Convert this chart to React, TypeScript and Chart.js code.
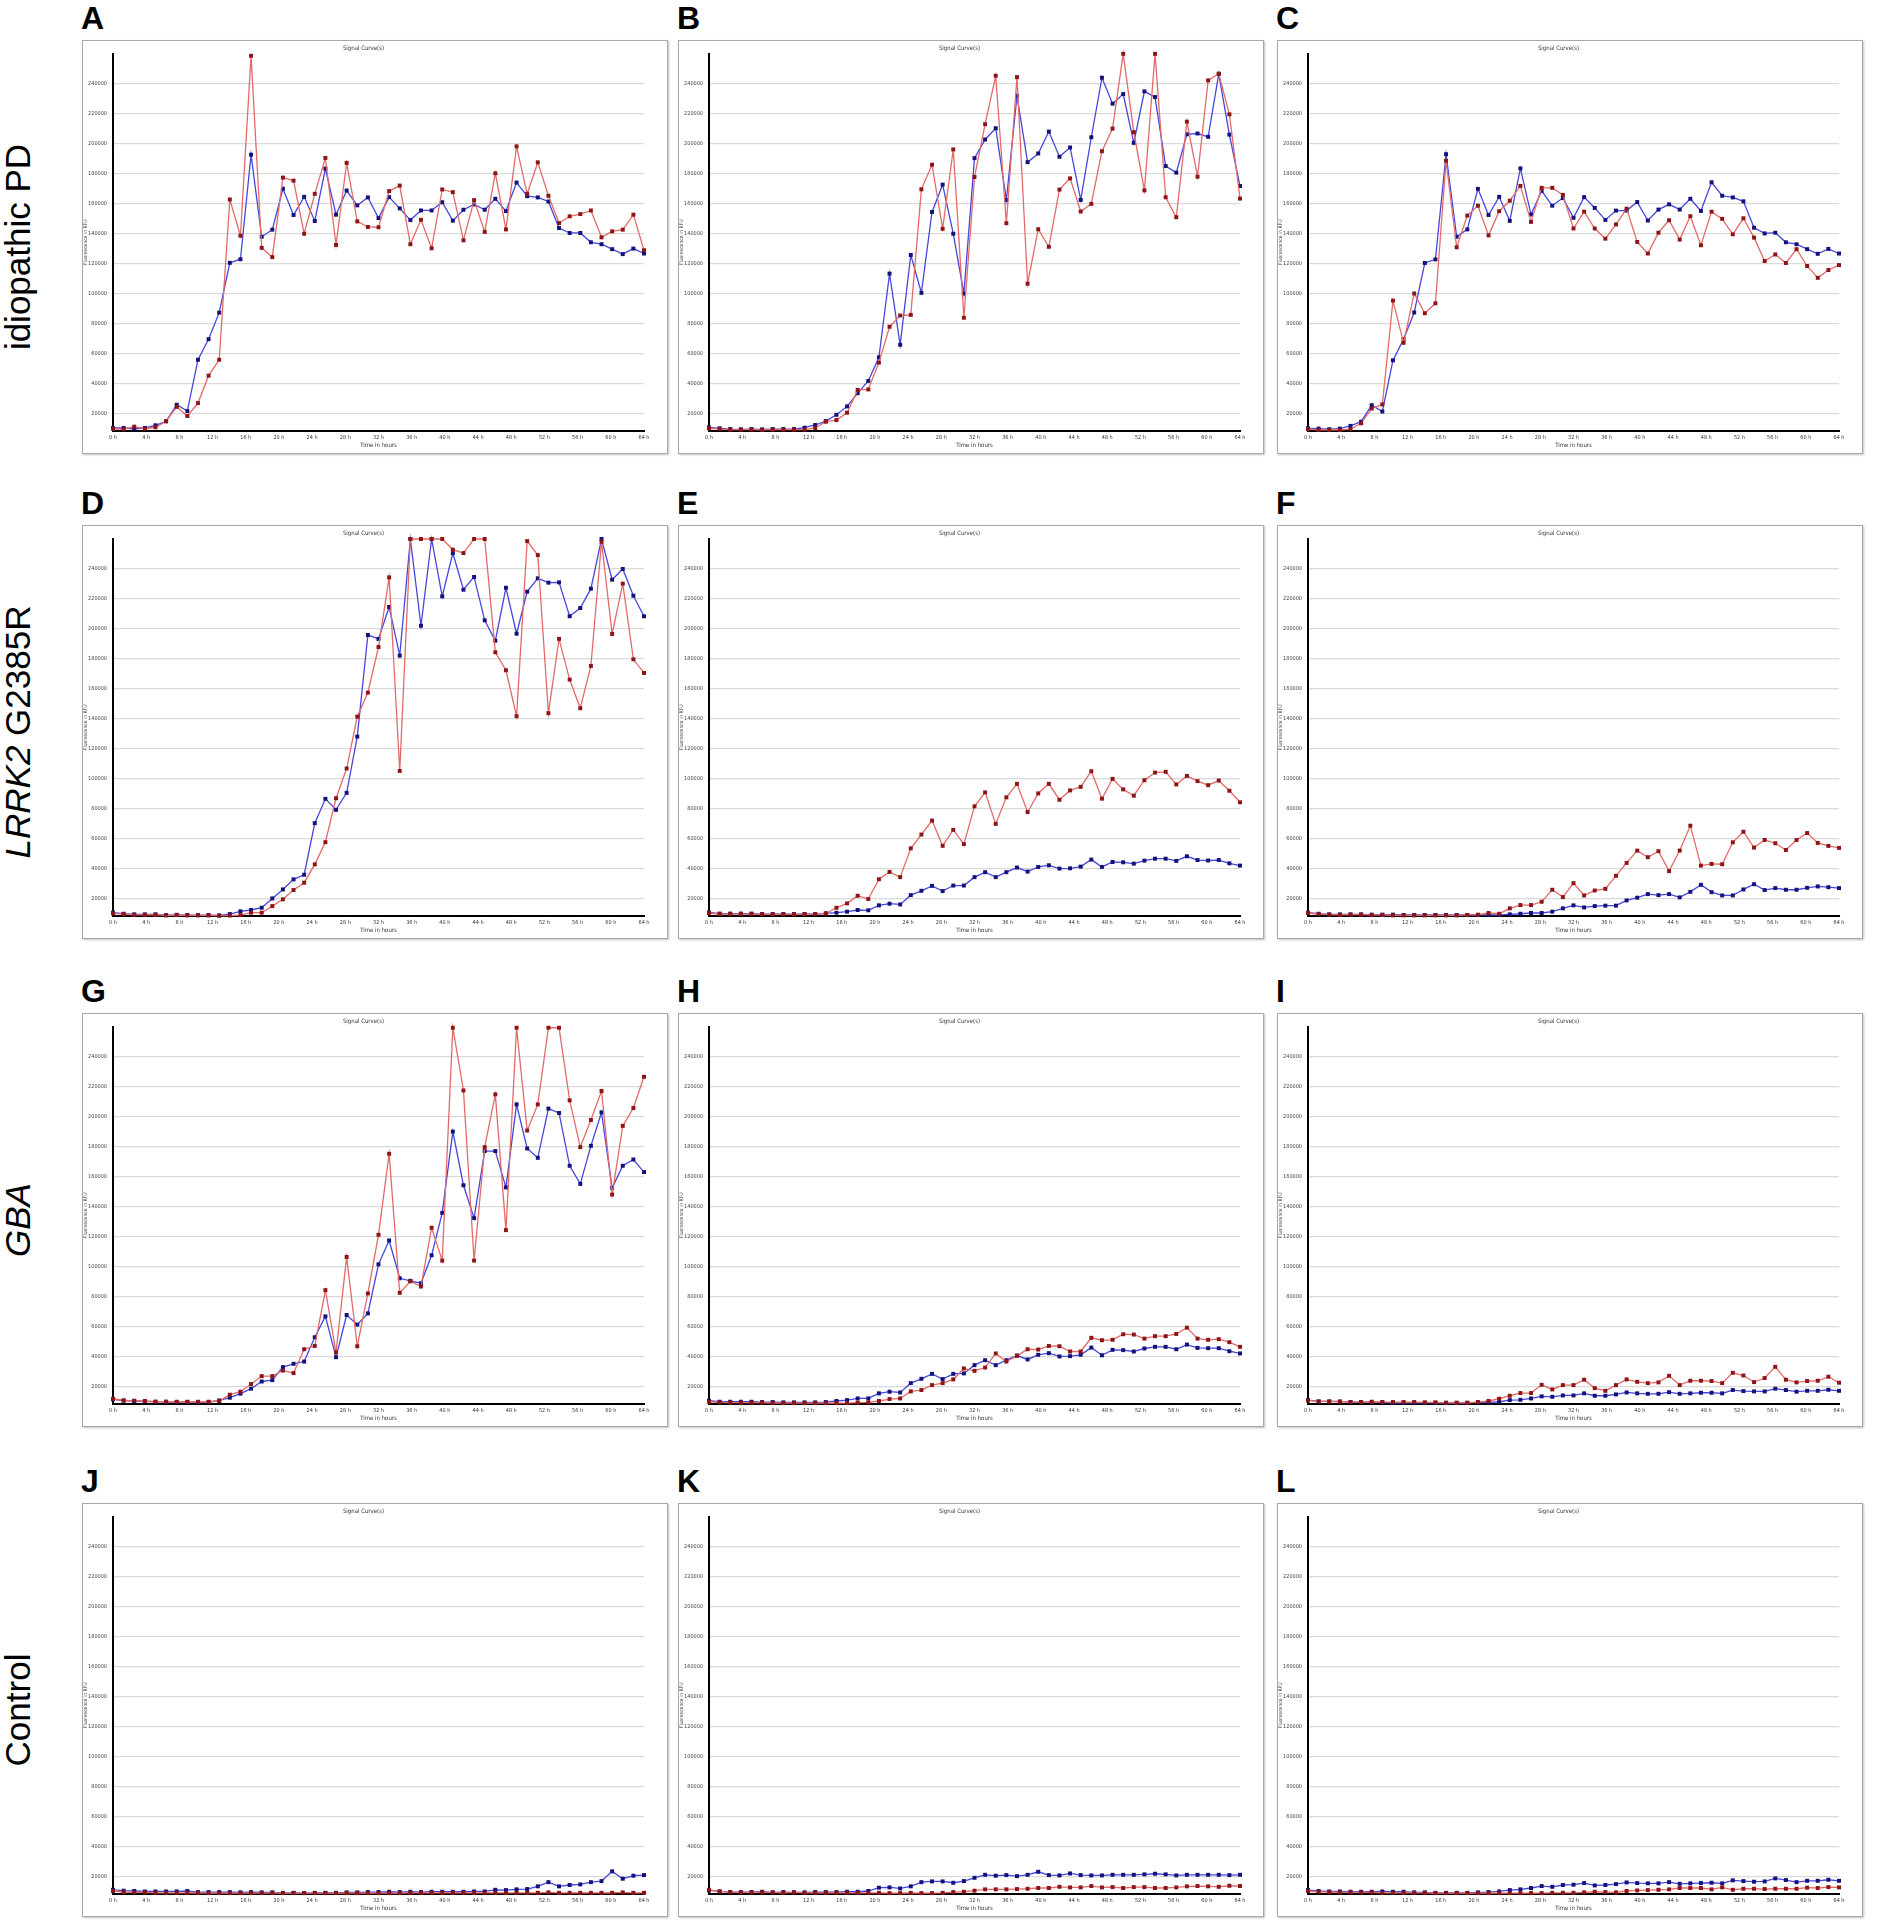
import React, { useEffect, useRef } from "react";
import Chart from "chart.js/auto";

// sampling times (one read every 1.28 h, 51 reads over 64 h)
const timeHours = [
  0, 1.28, 2.56, 3.84, 5.12, 6.4, 7.68, 8.96, 10.24, 11.52, 12.8, 14.08, 15.36,
  16.64, 17.92, 19.2, 20.48, 21.76, 23.04, 24.32, 25.6, 26.88, 28.16, 29.44,
  30.72, 32, 33.28, 34.56, 35.84, 37.12, 38.4, 39.68, 40.96, 42.24, 43.52, 44.8,
  46.08, 47.36, 48.64, 49.92, 51.2, 52.48, 53.76, 55.04, 56.32, 57.6, 58.88,
  60.16, 61.44, 62.72, 64,
];
const xTickHours = [0, 4, 8, 12, 16, 20, 24, 28, 32, 36, 40, 44, 48, 52, 56, 60, 64];
const yTickValues = [
  20000, 40000, 60000, 80000, 100000, 120000, 140000, 160000, 180000, 200000,
  220000, 240000,
];

const panelARed = [10000, 9600, 11400, 10000, 11000, 15000, 24600, 18500, 27100, 45400, 56000, 162800, 138700, 258600, 130600, 124400, 177400, 175400, 140000, 166600, 190500, 132500, 187200, 148200, 144500, 144300, 168400, 172100, 133000, 149300, 130300, 169500, 167700, 135600, 162400, 141200, 180300, 142900, 198200, 166600, 187600, 165300, 147100, 151600, 153100, 155500, 137600, 141600, 142700, 152700, 129000];
const panelABlue = [10500, 10500, 10000, 10500, 12300, 15000, 26000, 21800, 56000, 69700, 87400, 120600, 123000, 192700, 138000, 142700, 170000, 152500, 164600, 148500, 183400, 152700, 168800, 158900, 164200, 150400, 164400, 156900, 149100, 155500, 155500, 161000, 148700, 156000, 159500, 156000, 163300, 155100, 174100, 165000, 164200, 161500, 143800, 140500, 140500, 134300, 133000, 129700, 126400, 130100, 126800];

const panelBRed = [10300, 9800, 9400, 9400, 9400, 9200, 9400, 9400, 9400, 9400, 10500, 14700, 15800, 20700, 35900, 36200, 54100, 78000, 85500, 85900, 169600, 186000, 143300, 196200, 84000, 177800, 213000, 245300, 147000, 244400, 106700, 143000, 131300, 169400, 176900, 154800, 159900, 195000, 210100, 259900, 207700, 168900, 259900, 164300, 151000, 214700, 178000, 242200, 246600, 219600, 163400];
const panelBBlue = [10900, 10300, 9800, 9600, 9800, 9600, 9800, 9800, 9800, 10700, 12500, 15100, 19300, 24900, 33700, 41900, 57600, 113400, 66000, 125800, 100600, 154500, 172700, 140000, 100100, 190400, 202800, 210300, 162500, 231800, 187700, 193500, 208100, 191300, 197500, 162500, 204300, 244000, 226700, 233100, 200600, 234900, 231100, 185100, 180700, 206300, 206800, 204600, 246600, 206100, 171800];

const panelCRed = [9700, 9200, 9200, 9200, 9700, 13600, 23500, 26200, 95400, 67300, 100200, 87000, 93600, 188600, 131000, 152100, 158700, 138900, 155000, 162000, 171900, 147900, 170600, 170600, 165900, 143500, 154700, 143500, 136700, 146200, 156700, 134500, 126800, 140700, 149000, 136100, 151700, 132300, 154700, 149900, 139600, 150300, 137400, 121800, 126200, 120500, 129700, 118500, 110600, 115800, 119100];
const panelCBlue = [10300, 10100, 9700, 10100, 11900, 14700, 25700, 21500, 55600, 69700, 87500, 120500, 122900, 193000, 138000, 142900, 169900, 152500, 164600, 148600, 183500, 152800, 168600, 158700, 163800, 150600, 164400, 157200, 149200, 155400, 155400, 161100, 148800, 156100, 159600, 156100, 163300, 155200, 174300, 165300, 164200, 161600, 144000, 140200, 140700, 134300, 133000, 129700, 126600, 129900, 126800];

const panelDRed = [10200, 9800, 9300, 9300, 9300, 8900, 9100, 8900, 8900, 8900, 8700, 8800, 9100, 10700, 10700, 15100, 19600, 25800, 30700, 42900, 57700, 87000, 106800, 141400, 157400, 187800, 234200, 105200, 259800, 259800, 259800, 259800, 252700, 250400, 259800, 259800, 184300, 172300, 141700, 258400, 249100, 143700, 193200, 166100, 147000, 175200, 258000, 196500, 230000, 179600, 170500];
const panelDBlue = [10700, 10000, 9600, 9600, 9600, 9100, 9300, 9100, 9100, 9100, 8900, 9800, 11600, 12500, 14000, 20200, 26200, 32900, 36000, 70400, 86600, 79300, 90600, 128100, 195800, 193200, 214500, 182100, 259800, 202000, 259800, 221600, 250400, 226000, 234500, 205600, 192000, 227300, 196700, 224700, 233600, 230700, 230900, 208300, 213800, 226700, 259800, 232700, 239800, 222000, 208300];

const panelERed = [10500, 9800, 9800, 9800, 9800, 9600, 9600, 9600, 9600, 9600, 9800, 10100, 14000, 16900, 22000, 19800, 33000, 37900, 34400, 53600, 62800, 72100, 55300, 65900, 56400, 81600, 90900, 69900, 87600, 96600, 77800, 90200, 96600, 86000, 92200, 94600, 105000, 86700, 99900, 92900, 88700, 99000, 104100, 104600, 96200, 101900, 98400, 95700, 98800, 92000, 84300];
const panelEBlue = [10900, 10100, 10100, 10100, 10100, 9800, 9800, 9800, 9800, 9800, 9800, 10300, 10700, 11400, 12500, 12300, 15600, 16700, 16200, 22400, 25300, 28600, 25100, 28800, 28800, 34400, 37700, 34400, 37700, 40800, 38100, 41200, 42300, 40100, 40300, 41400, 46100, 41200, 44500, 44300, 43400, 45400, 46700, 46700, 45200, 48300, 45800, 45500, 45800, 43600, 42100];

const panelFRed = [10500, 9800, 9400, 9200, 9400, 9400, 9200, 9200, 8900, 8900, 8900, 8900, 8900, 8900, 8900, 9200, 9400, 10500, 10000, 13600, 15800, 15800, 18000, 26000, 21100, 30400, 22200, 25500, 26600, 35300, 43900, 52100, 47700, 51700, 38400, 52100, 68700, 42100, 43200, 43000, 57600, 64700, 54100, 59200, 57000, 52500, 59200, 63800, 57200, 55200, 53900];
const panelFBlue = [10700, 10000, 9600, 9600, 9600, 9600, 9400, 9400, 9400, 9200, 9200, 9200, 9200, 9200, 9200, 9200, 9200, 9200, 9200, 9600, 10000, 10500, 10500, 11400, 13600, 15600, 14200, 15100, 15400, 15400, 18900, 20700, 23100, 22400, 23100, 20900, 24600, 29300, 24400, 22200, 22200, 26200, 29700, 25800, 27100, 26000, 26000, 27300, 28200, 27700, 27100];

const panelGRed = [12000, 10900, 10700, 10500, 10000, 10000, 10000, 10000, 10000, 10000, 10500, 14700, 16700, 21800, 27100, 27100, 30800, 29100, 45000, 47200, 84400, 43000, 106500, 47000, 82200, 121300, 175300, 82600, 90300, 86800, 126000, 104100, 259300, 217500, 104100, 179700, 214900, 124400, 259300, 190800, 208200, 259300, 259300, 210900, 179700, 197800, 217100, 148100, 193900, 205800, 226600];
const panelGBlue = [11600, 10700, 10500, 10300, 10000, 10000, 9800, 9800, 9800, 9800, 10900, 12700, 15400, 18700, 23500, 24400, 33100, 35300, 36800, 53000, 66900, 39700, 67800, 61400, 68900, 101600, 117500, 92300, 90600, 89000, 107600, 135900, 190100, 154300, 132400, 177100, 177100, 152900, 208200, 178800, 172600, 205400, 202500, 167300, 155200, 180600, 202900, 152500, 167300, 171500, 163100];

const panelHRed = [10000, 9600, 9400, 9400, 9400, 9400, 9100, 9100, 9100, 9100, 9100, 9100, 9100, 9100, 9400, 9600, 10500, 11800, 12200, 16900, 17800, 21100, 22400, 24900, 32200, 30600, 32800, 42200, 36800, 40600, 45000, 44800, 47200, 47000, 43500, 43500, 52600, 51000, 51300, 55000, 54800, 52100, 53700, 53700, 55200, 59400, 52100, 51300, 51700, 49700, 46600];
const panelHBlue = [10700, 10000, 10000, 10000, 10000, 9800, 9800, 9600, 9600, 9600, 9600, 9800, 10500, 11100, 12200, 12200, 15600, 16700, 16200, 22400, 25300, 28600, 25100, 28600, 28900, 34400, 37700, 34400, 37700, 40800, 38200, 41300, 42400, 40200, 40400, 41300, 46100, 41000, 44600, 44400, 43500, 45500, 46600, 46600, 45000, 48100, 45900, 45700, 45700, 43700, 42200];

const panelIRed = [10900, 10200, 10200, 10000, 9800, 9800, 10000, 9800, 9800, 9800, 9800, 9600, 9600, 9300, 9300, 9300, 9800, 10500, 12000, 14000, 15800, 15800, 21300, 18200, 21100, 21100, 24700, 19100, 17300, 21100, 24900, 23300, 22400, 22900, 27300, 21100, 24000, 24000, 23800, 22400, 29300, 27500, 23100, 25800, 33300, 24700, 22900, 23800, 24000, 26700, 22700];
const panelIBlue = [11100, 10200, 10200, 10200, 9800, 9800, 9600, 9600, 9300, 9300, 9300, 9300, 9300, 9300, 9300, 9300, 9600, 9600, 10000, 11100, 11300, 12200, 13600, 13300, 14200, 14200, 15600, 14000, 14000, 14900, 16200, 15600, 15300, 15300, 16400, 15300, 15600, 16000, 16000, 15600, 17800, 17100, 16900, 16900, 18700, 17800, 16700, 17300, 17300, 18000, 17300];

const panelJRed = [10500, 9800, 9600, 9600, 9300, 9300, 9300, 9300, 9300, 9100, 9100, 9100, 9100, 9100, 9100, 9100, 9100, 9100, 9100, 9100, 9100, 9100, 9100, 9100, 9100, 9100, 9100, 9100, 9300, 9300, 9300, 9300, 9300, 9300, 9300, 9300, 9300, 9300, 9300, 9300, 9300, 9600, 9300, 9300, 9300, 9300, 9300, 9300, 9600, 9300, 9300];
const panelJBlue = [11300, 10700, 10500, 10200, 10200, 10200, 10200, 10500, 9800, 9800, 9800, 9800, 9600, 9800, 9600, 9600, 9300, 9300, 9100, 9300, 9300, 9300, 9600, 9600, 9800, 9800, 10000, 9800, 10000, 9800, 10000, 10000, 10000, 10000, 10200, 10200, 11300, 11100, 11600, 11800, 13600, 16400, 13600, 14500, 14900, 16400, 17100, 23600, 18700, 20700, 21100];

const panelKRed = [11300, 10200, 9800, 9600, 9600, 9600, 9600, 9300, 9600, 9300, 9300, 9300, 9300, 9300, 9300, 9300, 9300, 9100, 9100, 9300, 9100, 9100, 9300, 9800, 10000, 10700, 11600, 11600, 11600, 11800, 12000, 12500, 12500, 13300, 12900, 12900, 13800, 12900, 13100, 12500, 13100, 13100, 12500, 12500, 12900, 13600, 13800, 13600, 13300, 14000, 13800];
const panelKBlue = [10900, 10200, 9800, 9800, 9800, 10000, 9600, 9800, 9600, 9600, 9800, 9800, 9800, 10000, 10000, 10500, 12700, 12900, 12200, 13600, 16400, 16900, 16900, 16000, 17100, 19300, 21300, 20700, 21100, 20400, 21300, 23300, 21100, 20900, 22200, 21100, 20900, 20900, 21300, 21300, 21300, 21600, 22000, 21600, 20900, 21300, 21300, 21300, 21300, 21100, 21300];

const panelLRed = [10500, 10000, 9800, 9600, 9600, 9600, 9600, 9300, 9300, 9300, 9300, 9300, 9100, 9100, 9100, 9100, 9100, 9100, 9100, 9100, 9100, 9100, 9100, 9300, 9300, 9300, 9600, 10000, 9800, 9600, 10500, 10900, 11100, 11300, 11600, 12500, 12500, 12500, 11600, 12900, 11300, 12000, 12000, 11800, 12000, 12000, 12000, 12700, 12500, 13100, 12900];
const panelLBlue = [11100, 10500, 10200, 10200, 10000, 10000, 10000, 10200, 10000, 10000, 9600, 9600, 9300, 9300, 9300, 9300, 9600, 9800, 10200, 11100, 11600, 12500, 13800, 13300, 14500, 14700, 15800, 14200, 14500, 15100, 16200, 15800, 15600, 15600, 16400, 15300, 15600, 15800, 16000, 15600, 17600, 17100, 16700, 16900, 18900, 17800, 16400, 17300, 17300, 18000, 17300];

const PANEL_W = 586;
const PANEL_H = 414;
const colLefts = [82, 678, 1277];
const rowTops = [40, 525, 1013, 1503];

const chartFont = "'Liberation Sans Narrow', 'DejaVu Sans Condensed', 'Liberation Sans', sans-serif";
const labelFont = "'Liberation Sans', Arial, sans-serif";

const panels = [
    { letter: "A", red: panelARed, blue: panelABlue },
    { letter: "B", red: panelBRed, blue: panelBBlue },
    { letter: "C", red: panelCRed, blue: panelCBlue },
    { letter: "D", red: panelDRed, blue: panelDBlue },
    { letter: "E", red: panelERed, blue: panelEBlue },
    { letter: "F", red: panelFRed, blue: panelFBlue },
    { letter: "G", red: panelGRed, blue: panelGBlue },
    { letter: "H", red: panelHRed, blue: panelHBlue },
    { letter: "I", red: panelIRed, blue: panelIBlue },
    { letter: "J", red: panelJRed, blue: panelJBlue },
    { letter: "K", red: panelKRed, blue: panelKBlue },
    { letter: "L", red: panelLRed, blue: panelLBlue },
];

type PanelProps = {
    letter: string;
    left: number;
    top: number;
    red: number[];
    blue: number[];
};

const toPoints = (values: number[]) => timeHours.map((t, i) => ({ x: t, y: values[i] }));

const SignalPanel = ({ letter, left, top, red, blue }: PanelProps) => {
    const canvasRef = useRef<HTMLCanvasElement>(null);

    useEffect(() => {
        const chart = new Chart(canvasRef.current!, {
            type: "line",
            data: {
                datasets: [
                    {
                        data: toPoints(red),
                        borderColor: "#e46a6a",
                        borderWidth: 1.3,
                        pointStyle: "rect",
                        pointRadius: 2.8,
                        pointBackgroundColor: "#8e1515",
                        pointBorderColor: "#8e1515",
                        pointBorderWidth: 0,
                        tension: 0,
                        clip: false,
                    },
                    {
                        data: toPoints(blue),
                        borderColor: "#4646dc",
                        borderWidth: 1.3,
                        pointStyle: "rect",
                        pointRadius: 2.8,
                        pointBackgroundColor: "#12127a",
                        pointBorderColor: "#12127a",
                        pointBorderWidth: 0,
                        tension: 0,
                        clip: false,
                    },
                ],
            },
            options: {
                responsive: false,
                animation: false,
                events: [],
                layout: { padding: { left: 0, right: 23, top: 0, bottom: 4 } },
                scales: {
                    x: {
                        type: "linear",
                        min: 0,
                        max: 64,
                        afterBuildTicks: (axis: any) => {
                            axis.ticks = xTickHours.map((v) => ({ value: v }));
                        },
                        afterFit: (axis: any) => {
                            axis.height = 18;
                        },
                        ticks: {
                            callback: (v: any) => `${v} h`,
                            font: { family: chartFont, size: 5.5 },
                            color: "#333",
                            padding: 3,
                            maxRotation: 0,
                            autoSkip: false,
                        },
                        grid: { display: false, drawTicks: false },
                        border: { display: true, color: "#000", width: 2 },
                        title: {
                            display: true,
                            text: "Time in hours",
                            font: { family: chartFont, size: 6 },
                            color: "#333",
                            padding: 0,
                        },
                    },
                    y: {
                        type: "linear",
                        min: 8500,
                        max: 260000,
                        afterBuildTicks: (axis: any) => {
                            axis.ticks = yTickValues.map((v) => ({ value: v }));
                        },
                        afterFit: (axis: any) => {
                            axis.width = 30;
                        },
                        ticks: {
                            callback: (v: any) => String(v),
                            font: { family: chartFont, size: 5.5 },
                            color: "#444",
                            padding: 6,
                        },
                        grid: { color: "#dadada", lineWidth: 1.2, drawTicks: false },
                        border: { display: true, color: "#000", width: 2 },
                        title: {
                            display: true,
                            text: "Fluorescence in RFU",
                            font: { family: chartFont, size: 5 },
                            color: "#444",
                            padding: 0,
                        },
                    },
                },
                plugins: {
                    legend: { display: false },
                    tooltip: { enabled: false },
                    title: {
                        display: true,
                        text: "Signal Curve(s)",
                        font: { family: chartFont, size: 6, weight: "normal" },
                        color: "#333",
                        padding: { top: 4, bottom: 1.5 },
                    },
                },
            },
        });

        return () => {
            chart.destroy();
        };
    }, [red, blue]);

    return (
        <>
            <div
                style={{
                    position: "absolute",
                    left: left - 1,
                    top: top - 38,
                    font: `bold 32px ${labelFont}`,
                    lineHeight: "32px",
                }}
            >
                {letter}
            </div>
            <div
                style={{
                    position: "absolute",
                    left,
                    top,
                    width: PANEL_W,
                    height: PANEL_H,
                    boxSizing: "border-box",
                    border: "1px solid #a8a8a8",
                    boxShadow: "1px 1px 2px rgba(0,0,0,0.25)",
                    background: "#fff",
                }}
            >
                <canvas
                    ref={canvasRef}
                    width={PANEL_W - 2}
                    height={PANEL_H - 2}
                    style={{ display: "block" }}
                />
            </div>
        </>
    );
};

const rowLabels = [
    <>idiopathic PD</>,
    <>
        <i>LRRK2</i> G2385R
    </>,
    <i>GBA</i>,
    <>Control</>,
];

const App = () => {
    return (
        <div
            style={{
                position: "absolute",
                left: 0,
                top: 0,
                width: 1878,
                height: 1928,
                overflow: "hidden",
                background: "#fff",
            }}
        >
            {rowLabels.map((label, r) => (
                <div
                    key={r}
                    style={{
                        position: "absolute",
                        left: 18,
                        top: rowTops[r] + PANEL_H / 2,
                        transform: "translate(-50%, -50%) rotate(-90deg)",
                        whiteSpace: "nowrap",
                        font: `35px ${labelFont}`,
                        lineHeight: "40px",
                        color: "#000",
                    }}
                >
                    {label}
                </div>
            ))}
            {panels.map((p, i) => (
                <SignalPanel
                    key={p.letter}
                    letter={p.letter}
                    left={colLefts[i % 3]}
                    top={rowTops[Math.floor(i / 3)]}
                    red={p.red}
                    blue={p.blue}
                />
            ))}
        </div>
    );
};

export default App;
